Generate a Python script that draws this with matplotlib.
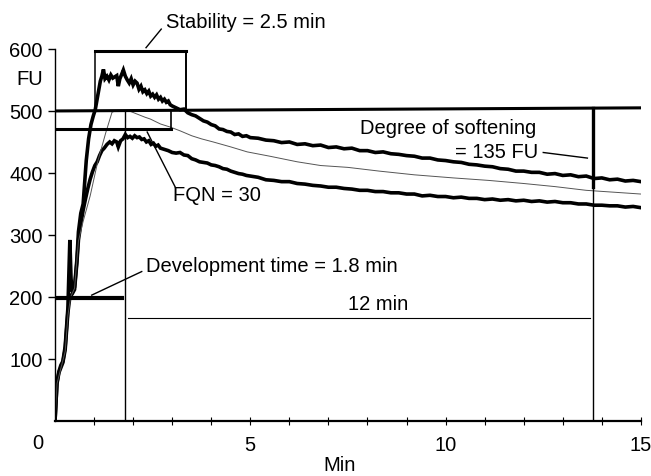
import matplotlib
matplotlib.use("Agg")
from matplotlib import pyplot as plt

plt.rcParams['font.family'] = ['Liberation Sans', 'DejaVu Sans']

# upper (thick) trace of the farinogram band
upper_t = [0.00, 0.05, 0.10, 0.15, 0.20, 0.26, 0.33, 0.38, 0.41, 0.44, 0.50, 0.56, 0.60,
           0.66, 0.72, 0.80, 0.86, 0.92, 0.98, 1.03, 1.08, 1.12, 1.16, 1.20, 1.24, 1.28,
           1.33, 1.38, 1.43, 1.48, 1.53, 1.58, 1.62, 1.66, 1.70, 1.75, 1.80, 1.85, 1.90,
           1.95, 2.00, 2.05, 2.10, 2.15, 2.20, 2.25, 2.30, 2.35, 2.40, 2.45, 2.50, 2.55,
           2.60, 2.65, 2.70, 2.75, 2.80, 2.85, 2.90, 2.95, 3.00, 3.10, 3.20, 3.30, 3.40,
           3.50, 3.60, 3.70, 3.80, 3.90, 4.00, 4.10, 4.20, 4.30, 4.40, 4.50, 4.60, 4.70,
           4.80, 4.90, 5.00, 5.20, 5.40, 5.60, 5.80, 6.00, 6.20, 6.40, 6.60, 6.80, 7.00,
           7.20, 7.40, 7.60, 7.80, 8.00, 8.20, 8.40, 8.60, 8.80, 9.00, 9.20, 9.40, 9.60,
           9.80, 10.00, 10.20, 10.40, 10.60, 10.80, 11.00, 11.20, 11.40, 11.60, 11.80,
           12.00, 12.20, 12.40, 12.60, 12.80, 13.00, 13.20, 13.40, 13.60, 13.80, 14.00,
           14.20, 14.40, 14.60, 14.80, 15.00]
upper_fu = [0, 62, 80, 90, 96, 120, 182, 292, 230, 208, 216, 260, 305,
            335, 350, 420, 455, 478, 492, 502, 520, 535, 548, 556, 567, 552,
            556, 550, 558, 553, 555, 557, 540, 552, 558, 566, 556, 550, 545,
            552, 542, 548, 545, 535, 540, 531, 534, 528, 532, 524, 527, 522,
            526, 519, 522, 516, 519, 514, 516, 510, 508, 505, 502, 503, 497,
            494, 492, 488, 484, 482, 478, 476, 471, 470, 467, 466, 462, 463,
            459, 460, 457, 456, 453, 452, 449, 450, 446, 447, 444, 445, 441,
            442, 439, 440, 436, 436, 433, 434, 431, 430, 428, 427, 424, 424,
            421, 420, 418, 417, 414, 413, 411, 410, 407, 406, 403,
            403, 401, 401, 398, 399, 396, 397, 394, 395, 391, 392,
            389, 390, 387, 388, 386]

# lower (thick) trace
lower_t = [0.00, 0.05, 0.10, 0.15, 0.20, 0.26, 0.33, 0.38, 0.44, 0.50, 0.56, 0.60, 0.66,
           0.72, 0.78, 0.84, 0.90, 0.96, 1.02, 1.08, 1.14, 1.20, 1.26, 1.33, 1.40, 1.46,
           1.52, 1.58, 1.62, 1.68, 1.74, 1.80, 1.86, 1.92, 1.98, 2.04, 2.10, 2.16, 2.22,
           2.28, 2.34, 2.40, 2.46, 2.52, 2.58, 2.64, 2.70, 2.80, 2.90, 3.00, 3.10, 3.20,
           3.30, 3.40, 3.50, 3.60, 3.70, 3.80, 3.90, 4.00, 4.10, 4.20, 4.30, 4.40, 4.50,
           4.60, 4.70, 4.80, 4.90, 5.00, 5.20, 5.40, 5.60, 5.80, 6.00, 6.20, 6.40, 6.60,
           6.80, 7.00, 7.20, 7.40, 7.60, 7.80, 8.00, 8.20, 8.40, 8.60, 8.80, 9.00, 9.20,
           9.40, 9.60, 9.80, 10.00, 10.20, 10.40, 10.60, 10.80, 11.00, 11.20, 11.40,
           11.60, 11.80, 12.00, 12.20, 12.40, 12.60, 12.80, 13.00, 13.20, 13.40, 13.60,
           13.80, 14.00, 14.20, 14.40, 14.60, 14.80, 15.00]
lower_fu = [0, 60, 78, 86, 94, 115, 175, 200, 205, 212, 255, 292, 318,
            340, 358, 375, 390, 402, 412, 418, 428, 436, 440, 446, 450, 447,
            452, 450, 442, 452, 455, 462, 457, 459, 456, 460, 457, 458, 454,
            455, 450, 452, 446, 448, 443, 445, 440, 438, 436, 433, 432, 433,
            429, 428, 423, 421, 418, 417, 416, 413, 412, 410, 407, 406, 403,
            401, 399, 398, 396, 395, 393, 389, 388, 386, 386, 383, 382, 380,
            379, 377, 377, 375, 374, 372, 372, 370, 370, 368, 368, 366, 366,
            363, 364, 362, 362, 360, 361, 359, 359, 357, 358, 356,
            357, 355, 356, 354, 355, 353, 354, 352, 352, 350, 350,
            348, 348, 347, 347, 345, 346, 344]

# thin mean curve
mid_t = [0.0, 0.05, 0.15, 0.26, 0.33, 0.40, 0.50, 0.60, 0.72, 0.90, 1.10, 1.30, 1.46,
         1.50, 1.70, 1.90, 2.10, 2.30, 2.44, 2.70, 2.95, 3.20, 3.50, 3.75, 4.05, 4.50,
         4.92, 5.50, 6.20, 6.80, 7.50, 8.30, 9.20, 10.20, 11.10, 12.00, 12.80, 13.60,
         14.30, 15.00]
mid_fu = [0, 60, 85, 112, 170, 200, 214, 290, 322, 363, 420, 465, 498,
          499, 501, 500, 495, 490, 487, 479, 474, 468, 460, 455, 450, 442,
          434, 427, 418, 412, 409, 403, 397, 392, 388, 383, 378, 372,
          369, 366]

fig = plt.figure(figsize=(6.51, 4.77), dpi=100)
ax = fig.add_axes([0.0845, 0.1153, 0.900, 0.780])

ax.plot(upper_t, upper_fu, color='black', lw=2.6, solid_joinstyle='miter')
ax.plot(lower_t, lower_fu, color='black', lw=2.6, solid_joinstyle='miter')
ax.plot(mid_t, mid_fu, color='#555555', lw=0.7)

# markings
k = 'black'
ax.plot([0, 15], [500, 505], color=k, lw=2.2)                 # 500 FU line
ax.plot([1.02, 3.35], [596, 596], color=k, lw=2.2)            # stability box
ax.plot([1.02, 1.02], [500, 596], color=k, lw=1.1)
ax.plot([3.35, 3.35], [503, 596], color=k, lw=1.4)
ax.plot([0, 2.97], [471, 471], color=k, lw=2.2)               # FQN
ax.plot([2.97, 2.97], [471, 500], color=k, lw=1.2)
ax.plot([1.8, 1.8], [0, 500], color=k, lw=1.0)                # dev time
ax.plot([0.05, 1.72], [198, 198], color=k, lw=3.0)
ax.plot([1.87, 13.7], [166, 166], color=k, lw=0.8)            # 12 min
ax.plot([13.77, 13.77], [0, 380], color=k, lw=1.0)
ax.plot([13.77, 13.77], [377, 505], color=k, lw=2.4)

# labels and leaders
fs = 14.5
ax.text(2.85, 645, 'Stability = 2.5 min', fontsize=fs, va='center', clip_on=False)
ax.plot([2.72, 2.33], [632, 602], color=k, lw=1.0, clip_on=False)
ax.text(3.03, 366, 'FQN = 30', fontsize=fs, va='center')
ax.plot([3.08, 2.36], [377, 466], color=k, lw=1.0)
ax.text(7.8, 474, 'Degree of softening', fontsize=fs, va='center')
ax.text(12.36, 435, '= 135 FU', fontsize=fs, va='center', ha='right')
ax.plot([12.5, 13.63], [433, 424], color=k, lw=1.0)
ax.text(2.33, 250, 'Development time = 1.8 min', fontsize=fs, va='center')
ax.plot([2.22, 0.94], [241, 203], color=k, lw=1.0)
ax.text(7.49, 190, '12 min', fontsize=fs, va='center')
ax.text(-0.64, 552, 'FU', fontsize=fs, va='center', ha='center', clip_on=False)
ax.text(-0.45, -34, '0', fontsize=fs, va='center', ha='center', clip_on=False)

ax.set_xlim(0, 15)
ax.set_ylim(0, 600)
for s in ['top', 'right']:
    ax.spines[s].set_visible(False)
ax.spines['left'].set_linewidth(1.0)
ax.spines['bottom'].set_linewidth(1.6)

ax.set_yticks([100, 200, 300, 400, 500, 600])
ax.tick_params(axis='y', direction='out', length=5, width=1.0, labelsize=fs, pad=4)
ax.set_xticks(range(1, 16))
ax.set_xticklabels(['' if i % 5 else str(i) for i in range(1, 16)])
ax.tick_params(axis='x', direction='inout', length=6, width=0.8, labelsize=fs, pad=7)
ax.set_xlabel('Min', fontsize=fs)
ax.xaxis.set_label_coords((340 - 55) / 586, -0.092)

fig.savefig('out.png', dpi=100)
